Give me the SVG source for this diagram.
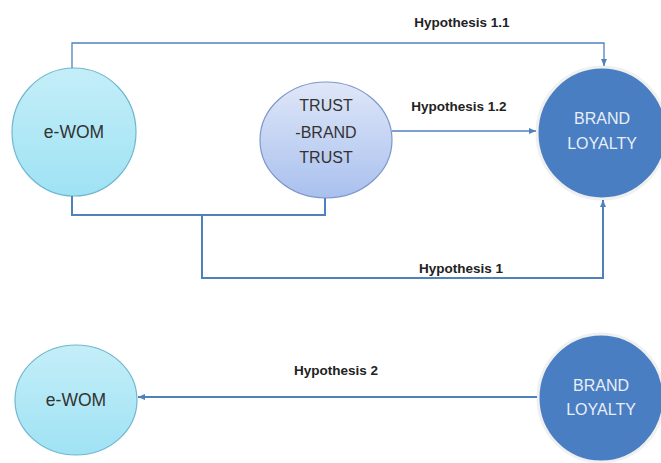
<svg xmlns="http://www.w3.org/2000/svg" width="661" height="463" viewBox="0 0 661 463">
<defs>
<linearGradient id="gCyan" x1="0" y1="0" x2="0" y2="1"><stop offset="0" stop-color="#c4eef8"/><stop offset="1" stop-color="#9fe2f4"/></linearGradient>
<linearGradient id="gBlue" x1="0" y1="0" x2="0" y2="1"><stop offset="0" stop-color="#dfe7f8"/><stop offset="1" stop-color="#a9c0ee"/></linearGradient>
<marker id="arr" markerWidth="8" markerHeight="8" refX="7" refY="4" orient="auto" markerUnits="userSpaceOnUse"><path d="M0,1 L7,4 L0,7 Z" fill="#4f81bd"/></marker>
</defs>
<style>
.node text{font-family:"Liberation Sans",Arial,sans-serif;font-size:16px;text-anchor:middle}
.node text.big{font-size:17.5px}
.cyan{fill:url(#gCyan);stroke:#6fb7cf;stroke-width:1.2}
.lav{fill:url(#gBlue);stroke:#7d97c8;stroke-width:1.2}
.dark{fill:#4a7ec2;stroke:#f0f0f0;stroke-width:3}
.dtext{fill:#e8eef8}
.ltext{fill:#333}
.c{fill:none;stroke:#4f81bd}
.lbl{font-family:"Liberation Sans",Arial,sans-serif;font-size:13.5px;font-weight:bold;fill:#222;text-anchor:middle}
</style>
<rect width="661" height="463" fill="#fff"/>
<g id="ewom1" class="node"><ellipse class="cyan" cx="74" cy="132" rx="62" ry="64"/><text class="ltext big" x="74" y="138">e-WOM</text></g>
<g id="trust" class="node"><ellipse class="lav" cx="326" cy="140" rx="66" ry="58"/><text class="ltext" x="326" y="111">TRUST</text><text class="ltext" x="326" y="138">-BRAND</text><text class="ltext" x="326" y="163">TRUST</text></g>
<g id="loyalty1" class="node"><ellipse class="dark" cx="602" cy="133" rx="65" ry="66"/><text class="dtext" x="602" y="124">BRAND</text><text class="dtext" x="602" y="149">LOYALTY</text></g>
<g id="ewom2" class="node"><ellipse class="cyan" cx="76" cy="400" rx="61" ry="55"/><text class="ltext big" x="76" y="406">e-WOM</text></g>
<g id="loyalty2" class="node"><ellipse class="dark" cx="601" cy="398" rx="63" ry="64"/><text class="dtext" x="601" y="391">BRAND</text><text class="dtext" x="601" y="415">LOYALTY</text></g>
<g id="connectors">
<path class="c" stroke-width="1.3" d="M72,68 V43 H604 V66" marker-end="url(#arr)"/>
<path class="c" stroke-width="1.3" d="M392,131 H536" marker-end="url(#arr)"/>
<path class="c" stroke-width="2" d="M72,196 V215 H325 V198"/>
<path class="c" stroke-width="2" d="M202,215 V278 H603 V200" marker-end="url(#arr)"/>
<path class="c" stroke-width="2" d="M537,397 H138" marker-end="url(#arr)"/>
<text class="lbl" x="462" y="27">Hypothesis 1.1</text>
<text class="lbl" x="459" y="111">Hypothesis 1.2</text>
<text class="lbl" x="461" y="273">Hypothesis 1</text>
<text class="lbl" x="336" y="375">Hypothesis 2</text>
</g>
</svg>
